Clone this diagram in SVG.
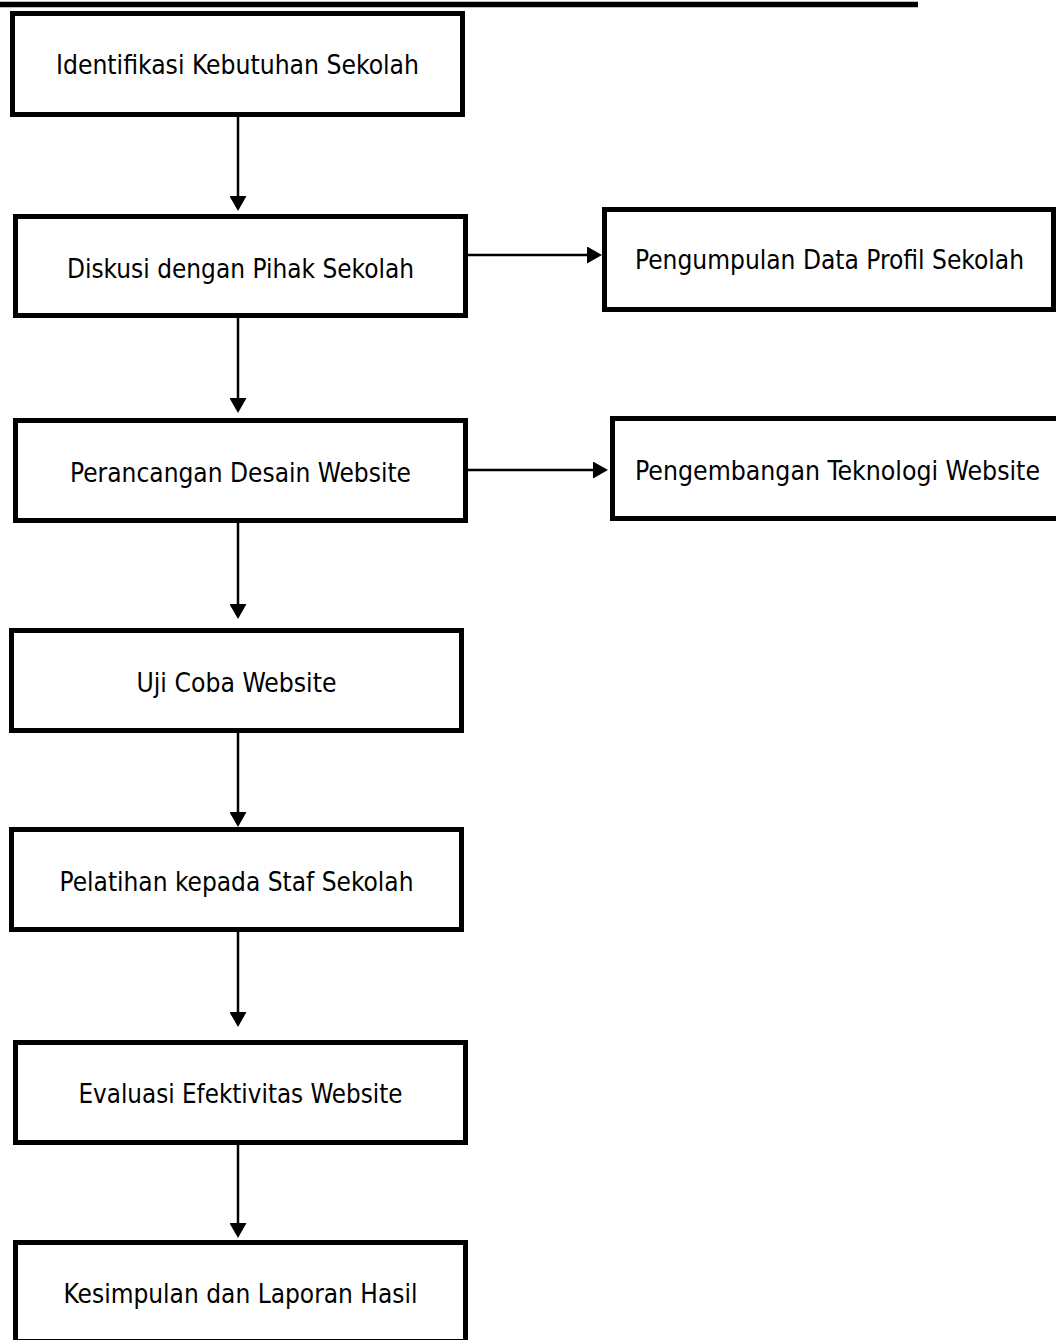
<svg xmlns="http://www.w3.org/2000/svg" width="1056" height="1340" viewBox="0 0 1056 1340">
<style>
.box{fill:#fff;stroke:#000;stroke-width:5}
.lbl{font-family:Tahoma,"DejaVu Sans Condensed","DejaVu Sans",sans-serif;font-size:27px;fill:#000;text-anchor:middle}
.con{stroke:#000;stroke-width:2.5;fill:none;marker-end:url(#arr)}
</style>
<defs>
<marker id="arr" viewBox="0 0 15 17" refX="5" refY="8.5" markerWidth="15" markerHeight="17" markerUnits="userSpaceOnUse" orient="auto">
<path d="M0,0 L15,8.5 L0,17 Z" fill="#000"/>
</marker>
</defs>
<rect width="1056" height="1340" fill="#fff"/>
<line x1="0" y1="4.5" x2="918" y2="4.5" stroke="#000" stroke-width="5.5"/>
<g id="connectors">
<line class="con" x1="238" y1="117" x2="238" y2="201"/>
<line class="con" x1="238" y1="318" x2="238" y2="403"/>
<line class="con" x1="238" y1="523" x2="238" y2="609"/>
<line class="con" x1="238" y1="733" x2="238" y2="817"/>
<line class="con" x1="238" y1="932" x2="238" y2="1017"/>
<line class="con" x1="238" y1="1145" x2="238" y2="1228"/>
<line class="con" x1="468" y1="255" x2="592" y2="255"/>
<line class="con" x1="468" y1="470" x2="598" y2="470"/>
</g>
<g id="n1"><rect class="box" x="12.5" y="13.5" width="450" height="101"/><text class="lbl" x="237.5" y="74" textLength="363" lengthAdjust="spacingAndGlyphs">Identifikasi Kebutuhan Sekolah</text></g>
<g id="n2"><rect class="box" x="15.5" y="216.5" width="450" height="99"/><text class="lbl" x="240.5" y="278" textLength="347" lengthAdjust="spacingAndGlyphs">Diskusi dengan Pihak Sekolah</text></g>
<g id="n3"><rect class="box" x="604.5" y="209.5" width="449" height="100"/><text class="lbl" x="829.5" y="269" textLength="389" lengthAdjust="spacingAndGlyphs">Pengumpulan Data Profil Sekolah</text></g>
<g id="n4"><rect class="box" x="15.5" y="420.5" width="450" height="100"/><text class="lbl" x="240.5" y="482" textLength="341" lengthAdjust="spacingAndGlyphs">Perancangan Desain Website</text></g>
<g id="n5"><rect class="box" x="612.5" y="418.5" width="450" height="100"/><text class="lbl" x="837.5" y="480" textLength="405" lengthAdjust="spacingAndGlyphs">Pengembangan Teknologi Website</text></g>
<g id="n6"><rect class="box" x="11.5" y="630.5" width="450" height="100"/><text class="lbl" x="236.5" y="692" textLength="200" lengthAdjust="spacingAndGlyphs">Uji Coba Website</text></g>
<g id="n7"><rect class="box" x="11.5" y="829.5" width="450" height="100"/><text class="lbl" x="236.5" y="891" textLength="354" lengthAdjust="spacingAndGlyphs">Pelatihan kepada Staf Sekolah</text></g>
<g id="n8"><rect class="box" x="15.5" y="1042.5" width="450" height="100"/><text class="lbl" x="240.5" y="1103" textLength="324" lengthAdjust="spacingAndGlyphs">Evaluasi Efektivitas Website</text></g>
<g id="n9"><rect class="box" x="15.5" y="1242.5" width="450" height="99"/><text class="lbl" x="240.5" y="1303" textLength="354" lengthAdjust="spacingAndGlyphs">Kesimpulan dan Laporan Hasil</text></g>
</svg>
